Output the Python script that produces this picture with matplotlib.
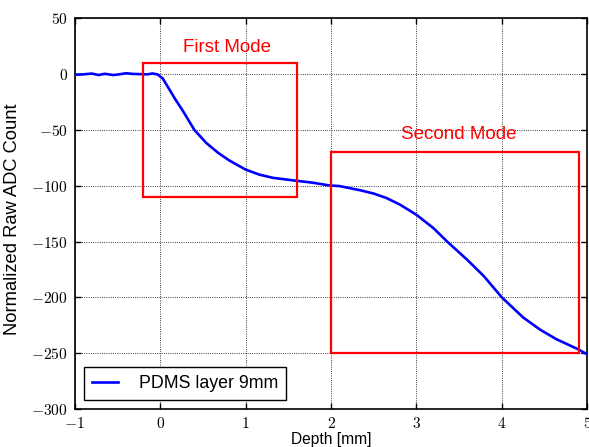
import matplotlib
matplotlib.use("Agg")
import matplotlib.pyplot as plt
from matplotlib.patches import Rectangle
from matplotlib.ticker import FuncFormatter, MultipleLocator

plt.rcParams['font.family'] = ['Liberation Sans', 'DejaVu Sans']
plt.rcParams['mathtext.fontset'] = 'cm'

depth = [-1.0, -0.9, -0.8, -0.72, -0.65, -0.55, -0.48, -0.4, -0.32, -0.24, -0.15, -0.09, -0.03,
         0.03, 0.11, 0.17, 0.27, 0.40, 0.54, 0.68, 0.81, 1.0, 1.16, 1.32, 1.57, 1.79,
         1.98, 2.1, 2.34, 2.5, 2.65, 2.81, 3.0, 3.2, 3.36, 3.59, 3.79, 4.0, 4.25, 4.45,
         4.64, 4.88, 5.0]
adc = [-0.5, -0.2, 0.5, -0.8, 0.3, -0.8, -0.2, 0.8, 0.2, 0.0, -0.2, 0.6, -0.3,
       -3.9, -14, -21.7, -33.5, -50, -61.7, -70.6, -77.4, -85.5, -90, -92.9, -95.3, -97.3,
       -99.7, -100.3, -104, -107, -111, -117, -126, -138, -150, -166, -181, -200, -218, -229,
       -237.5, -246, -251]

series_label = "PDMS layer 9mm"
modes = ["First Mode", "Second Mode"]
mode_x0 = [-0.2, 2.0]
mode_x1 = [1.6, 4.9]
mode_y0 = [-110, -250]
mode_y1 = [10, -70]
mode_text_x = [0.78, 3.5]
mode_text_y = [24, -54]

fig = plt.figure(figsize=(5.89, 4.47), dpi=100)
ax = fig.add_axes([0.127, 0.085, 0.870, 0.874])

ax.plot(depth, adc, color='b', lw=1.9, label=series_label, zorder=3)

for i, name in enumerate(modes):
    ax.add_patch(Rectangle((mode_x0[i], mode_y0[i]), mode_x1[i] - mode_x0[i],
                           mode_y1[i] - mode_y0[i], fill=False, edgecolor='red',
                           lw=1.6, zorder=4))
    ax.text(mode_text_x[i], mode_text_y[i], name, color='red', fontsize=13.5,
            ha='center', va='center')

ax.set_xlim(-1, 5)
ax.set_ylim(-300, 50)
ax.xaxis.set_major_locator(MultipleLocator(1))
ax.yaxis.set_major_locator(MultipleLocator(50))
fmt = FuncFormatter(lambda v, p: r'$%d$' % int(round(v)))
ax.xaxis.set_major_formatter(fmt)
ax.yaxis.set_major_formatter(fmt)
ax.tick_params(direction='in', length=4, width=1, top=True, right=True,
               labelsize=11.2, pad=5)
ax.grid(True, color='k', linestyle=':', lw=0.6)
for s in ax.spines.values():
    s.set_linewidth(1.2)

ax.set_xlabel("Depth [mm]", fontsize=11.2, labelpad=1)
ax.set_ylabel("Normalized Raw ADC Count", fontsize=13.2)
ax.yaxis.set_label_coords(-0.105, 0.485)

leg = ax.legend(loc='lower left', fontsize=12.8, fancybox=False, framealpha=1,
                edgecolor='k', handlelength=1.5, handletextpad=1.15,
                borderpad=0.45, borderaxespad=0.5)
leg.get_frame().set_linewidth(1.0)

fig.savefig("out.png", dpi=100)
